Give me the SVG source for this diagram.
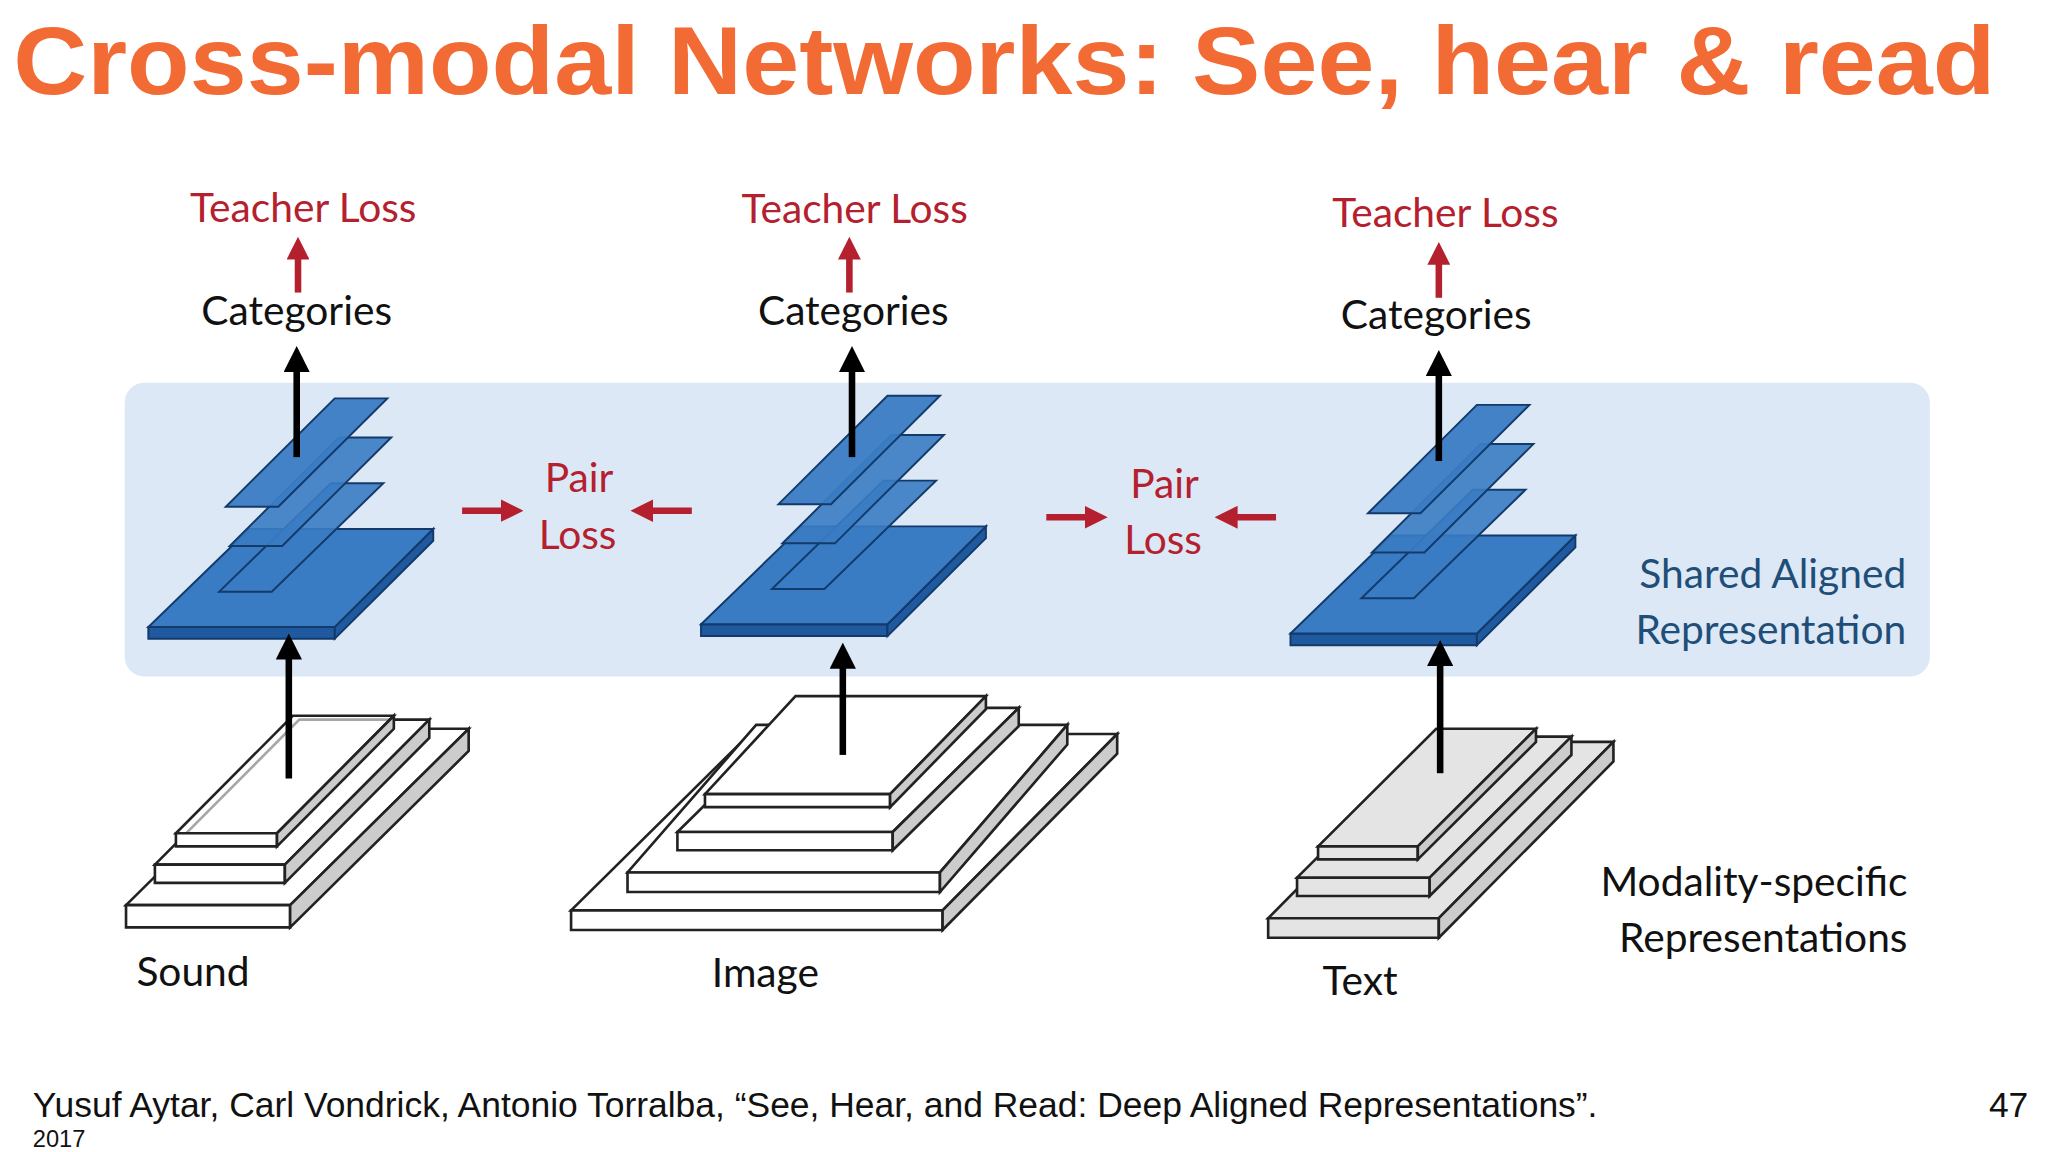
<svg xmlns="http://www.w3.org/2000/svg" width="2048" height="1152" viewBox="0 0 2048 1152">
<defs>
<style>
.t{font-family:Lato,"Open Sans",sans-serif;font-size:31px}
.red{fill:#B5202E}
.blk{fill:#111}
.blue{fill:#1F4E79}
.bl{fill:#3A7CC4;stroke:#123A6A;stroke-width:1.5}
.bs{fill:#1F5AA0;stroke:#123A6A;stroke-width:1.5}
.w{fill:#fff;stroke:#222;stroke-width:2}
.ws{fill:#ccc;stroke:#222;stroke-width:2}
.g{fill:#e4e4e4;stroke:#222;stroke-width:2}
.ka{stroke:#000;stroke-width:5;marker-end:url(#ka)}
.ra{stroke:#B5202E;stroke-width:5;marker-end:url(#ra)}
</style>
<marker id="ka" viewBox="0 0 10 10" refX="5" refY="5" markerWidth="4" markerHeight="4" orient="auto"><path d="M0,0L10,5L0,10z" fill="#000"/></marker>
<marker id="ra" viewBox="0 0 10 10" refX="5" refY="5" markerWidth="3.5" markerHeight="3.5" orient="auto"><path d="M0,0L10,5L0,10z" fill="#B5202E"/></marker>
<g id="bstack">
<path class="bs" d="M113,480L255,480L255,489L113,489z"/><path class="bs" d="M255,480L330,405L330,414L255,489z"/>
<path class="bl" d="M113,480L255,480L330,405L190,405z"/>
<path class="bl" d="M167,453L207,453L292,370L252,370z" fill-opacity="0.9"/>
<path class="bl" d="M175,418L215,418L298,335L258,335z" fill-opacity="0.9"/>
<path class="bl" d="M172,388L212,388L295,305L255,305z" fill-opacity="0.95"/>
</g>
</defs>
<g transform="scale(1.3128,1.3061)">
<text x="10" y="72" style="font-family:'Liberation Sans',Arial,sans-serif;font-weight:bold;font-size:74px;fill:#F26B35" textLength="1510" lengthAdjust="spacingAndGlyphs">Cross-modal Networks: See, hear &amp; read</text>
<rect id="shared" x="95" y="293" width="1375" height="225" rx="15" fill="#DCE8F5"/>
<g id="sound-white">
<path class="w" d="M96,693L221,693L357,558L232,558z"/><path class="w" d="M96,693h125v17h-125z"/><path class="ws" d="M221,693L357,558L357,575L221,710z"/>
<path class="w" d="M118,662L217,662L327,551L228,551z"/><path class="w" d="M118,662h99v14h-99z"/><path class="ws" d="M217,662L327,551L327,565L217,676z"/>
<path class="w" d="M134,638L211,638L300,548L223,548z" fill-opacity="0.6"/><path class="w" d="M134,638h77v10h-77z"/><path class="ws" d="M211,638L300,548L300,558L211,648z"/>
</g>
<g id="image-white">
<path class="w" d="M435,697L718,697L851,562L571,562z"/><path class="w" d="M435,697h283v15h-283z"/><path class="ws" d="M718,697L851,562L851,577L718,712z"/>
<path class="w" d="M478,668L716,668L813,555L576,555z"/><path class="w" d="M478,668h238v15h-238z"/><path class="ws" d="M716,668L813,555L813,570L716,683z"/>
<path class="w" d="M516,637L680,637L776,542L612,542z"/><path class="w" d="M516,637h164v14h-164z"/><path class="ws" d="M680,637L776,542L776,556L680,651z"/>
<path class="w" d="M537,608L678,608L751,533L606,533z"/><path class="w" d="M537,608h141v10h-141z"/><path class="ws" d="M678,608L751,533L751,543L678,618z"/>
</g>
<g id="text-gray">
<path class="g" d="M966,703L1096,703L1229,568L1099,568z"/><path class="g" d="M966,703h130v15h-130z"/><path class="ws" d="M1096,703L1229,568L1229,583L1096,718z"/>
<path class="g" d="M988,672L1089,672L1197,564L1096,564z"/><path class="g" d="M988,672h101v14h-101z"/><path class="ws" d="M1089,672L1197,564L1197,578L1089,686z"/>
<path class="g" d="M1004,648L1080,648L1170,558L1094,558z"/><path class="g" d="M1004,648h76v10h-76z"/><path class="ws" d="M1080,648L1170,558L1170,568L1080,658z"/>
</g>
<g id="sound-blue"><use href="#bstack"/></g>
<g id="image-blue"><use href="#bstack" transform="translate(421,-2)"/></g>
<g id="text-blue"><use href="#bstack" transform="translate(870,5)"/></g>
<g id="connectors">
<line class="ka" x1="220" y1="596" x2="220" y2="495"/>
<line class="ka" x1="226" y1="350" x2="226" y2="275"/>
<line class="ra" x1="227" y1="224" x2="227" y2="190"/>
<line class="ka" x1="642" y1="578" x2="642" y2="502"/>
<line class="ka" x1="649" y1="350" x2="649" y2="275"/>
<line class="ra" x1="647" y1="224" x2="647" y2="190"/>
<line class="ka" x1="1097" y1="592" x2="1097" y2="500"/>
<line class="ka" x1="1096" y1="353" x2="1096" y2="278"/>
<line class="ra" x1="1096" y1="228" x2="1096" y2="194"/>
<line class="ra" x1="352" y1="391" x2="390" y2="391"/>
<line class="ra" x1="527" y1="391" x2="489" y2="391"/>
<line class="ra" x1="797" y1="396" x2="835" y2="396"/>
<line class="ra" x1="972" y1="396" x2="934" y2="396"/>
</g>
<g id="labels" class="t" text-anchor="middle">
<text x="231" y="170" class="red">Teacher Loss</text>
<text x="651" y="171" class="red">Teacher Loss</text>
<text x="1101" y="174" class="red">Teacher Loss</text>
<text x="226" y="249" class="blk">Categories</text>
<text x="650" y="249" class="blk">Categories</text>
<text x="1094" y="252" class="blk">Categories</text>
<text x="441" y="377" class="red">Pair</text>
<text x="440" y="420" class="red">Loss</text>
<text x="887" y="381" class="red">Pair</text>
<text x="886" y="424" class="red">Loss</text>
<text x="147" y="755" class="blk">Sound</text>
<text x="583" y="756" class="blk">Image</text>
<text x="1036" y="762" class="blk">Text</text>
<text x="1452" y="450" class="blue" text-anchor="end">Shared Aligned</text>
<text x="1452" y="493" class="blue" text-anchor="end">Representation</text>
<text x="1453" y="686" class="blk" text-anchor="end">Modality-specific</text>
<text x="1453" y="729" class="blk" text-anchor="end">Representations</text>
</g>
<g style="font-family:'Liberation Sans',Arial,sans-serif;font-size:27px;fill:#111">
<text x="25" y="855">Yusuf Aytar, Carl Vondrick, Antonio Torralba, “See, Hear, and Read: Deep Aligned Representations”.</text>
<text x="25" y="878" font-size="18">2017</text>
<text x="1515" y="855">47</text>
</g>
</g>
</svg>
